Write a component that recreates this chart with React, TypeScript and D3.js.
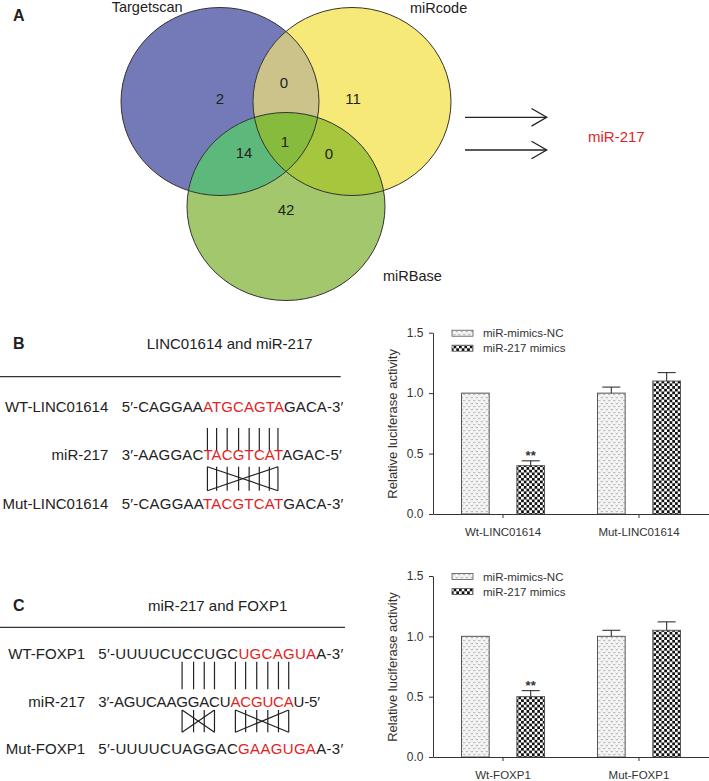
import React, { useEffect, useLayoutEffect, useRef, useState } from "react";
import * as d3 from "d3";

// ---- Venn (panel A) ----
const setNames = ["Targetscan", "miRcode", "miRBase"];
const regionKeys = ["T", "M", "B", "TM", "TB", "MB", "TMB"];
const regionCounts = [2, 11, 42, 0, 14, 0, 1];
const resultName = "miR-217";

// ---- luciferase bars (panels B, C) ----
const series = ["miR-mimics-NC", "miR-217 mimics"];
const yTicks = [0, 0.5, 1.0, 1.5];

const catsB = ["Wt-LINC01614", "Mut-LINC01614"];
const ncB = [1.0, 1.0];
const ncErrB = [0, 0.05];
const mimicsB = [0.4, 1.1];
const mimicsErrB = [0.04, 0.07];
const starsB = ["**", ""];

const catsC = ["Wt-FOXP1", "Mut-FOXP1"];
const ncC = [1.0, 1.0];
const ncErrC = [0, 0.05];
const mimicsC = [0.5, 1.05];
const mimicsErrC = [0.05, 0.07];
const starsC = ["**", ""];

// ---- sequences ----
const titleB = "LINC01614 and miR-217";
const rowLabelsB = ["WT-LINC01614", "miR-217", "Mut-LINC01614"];
const seqB = [
  ["5′-CAGGAA", "ATGCAGTA", "GACA-3′"],
  ["3′-AAGGAC", "TACGTCAT", "AGAC-5′"],
  ["5′-CAGGAA", "TACGTCAT", "GACA-3′"],
];
const pairsB = [[9, 16]];

const titleC = "miR-217 and FOXP1";
const rowLabelsC = ["WT-FOXP1", "miR-217", "Mut-FOXP1"];
const seqC = [
  ["5′-UUUUCUCCUGC", "UGCAGUA", "A-3′"],
  ["3′-AGUCAAGGACU", "ACGUCA", "U-5′"],
  ["5′-UUUUCUAGGAC", "GAAGUGA", "A-3′"],
];
const pairsC = [
  [9, 12],
  [14, 19],
];

const FONT = "'Liberation Sans', Arial, Helvetica, sans-serif";
const INK = "#222";
const RED = "#e31e24";

const RX = 99,
  RY = 94;
const ell = [
  { cx: 220, cy: 101.5, fill: "#7479b8" },
  { cx: 352, cy: 101.5, fill: "#f7e977" },
  { cx: 286, cy: 206.5, fill: "#a2c76c" },
];
const mixColors = { TM: "#ccc38a", TB: "#5db97b", MB: "#a6c63d", TMB: "#87bb3e" };

function Venn() {
  const count = (k: string) => regionCounts[regionKeys.indexOf(k)];
  const nums: [string, number, number][] = [
    ["T", 220, 99],
    ["M", 353, 99],
    ["B", 286, 210],
    ["TM", 284, 83],
    ["TB", 244, 153],
    ["MB", 329, 154],
    ["TMB", 285, 142],
  ];
  const arrowsY = [117.3, 150];
  return (
    <g>
      <defs>
        <clipPath id="clipT">
          <ellipse cx={ell[0].cx} cy={ell[0].cy} rx={RX} ry={RY} />
        </clipPath>
        <clipPath id="clipM">
          <ellipse cx={ell[1].cx} cy={ell[1].cy} rx={RX} ry={RY} />
        </clipPath>
      </defs>
      {ell.map((e, i) => (
        <ellipse key={i} cx={e.cx} cy={e.cy} rx={RX} ry={RY} fill={e.fill} />
      ))}
      <ellipse cx={ell[1].cx} cy={ell[1].cy} rx={RX} ry={RY} fill={mixColors.TM} clipPath="url(#clipT)" />
      <ellipse cx={ell[2].cx} cy={ell[2].cy} rx={RX} ry={RY} fill={mixColors.TB} clipPath="url(#clipT)" />
      <ellipse cx={ell[2].cx} cy={ell[2].cy} rx={RX} ry={RY} fill={mixColors.MB} clipPath="url(#clipM)" />
      <g clipPath="url(#clipT)">
        <ellipse cx={ell[2].cx} cy={ell[2].cy} rx={RX} ry={RY} fill={mixColors.TMB} clipPath="url(#clipM)" />
      </g>
      {ell.map((e, i) => (
        <ellipse key={"o" + i} cx={e.cx} cy={e.cy} rx={RX} ry={RY} fill="none" stroke="#333" strokeWidth={1} />
      ))}
      {nums.map(([k, x, y]) => (
        <text key={k} x={x} y={y + 5.4} textAnchor="middle" fontSize={15} fill={INK}>
          {count(k)}
        </text>
      ))}
      <text x={111.7} y={12} fontSize={14.5} fill={INK}>{setNames[0]}</text>
      <text x={410} y={12.5} fontSize={14.5} fill={INK}>{setNames[1]}</text>
      <text x={383} y={280.5} fontSize={14.5} fill={INK}>{setNames[2]}</text>
      {arrowsY.map((y) => (
        <g key={y} stroke={INK} strokeWidth={1.3} fill="none">
          <line x1={465} x2={546.5} y1={y} y2={y} />
          <polyline points={`531.5,${y - 8.8} 546.7,${y} 531.5,${y + 8.8}`} />
        </g>
      ))}
      <text x={588} y={142} fontSize={15} fill={RED}>{resultName}</text>
    </g>
  );
}

type BarProps = {
  cats: string[];
  nc: number[];
  ncErr: number[];
  mimics: number[];
  mimicsErr: number[];
  stars: string[];
  yZero: number;
  yTop: number;
  id: string;
};

function BarChart({ cats, nc, ncErr, mimics, mimicsErr, stars, yZero, yTop, id }: BarProps) {
  const yAxisRef = useRef<SVGGElement>(null);
  const xAxisRef = useRef<SVGGElement>(null);
  const x0 = d3.scaleBand<string>().domain(cats).range([433, 709]).paddingOuter(0.015);
  const x1 = d3.scaleBand<string>().domain(series).range([-41.5, 41.5]).paddingInner(0.5);
  const y = d3.scaleLinear().domain([0, 1.5]).range([yZero, yTop]);

  useEffect(() => {
    const ga = d3
      .select(yAxisRef.current)
      .call(
        d3
          .axisLeft(y)
          .tickValues(yTicks)
          .tickFormat(d3.format(".1f"))
          .tickSize(4)
          .tickSizeOuter(0)
          .tickPadding(5.5)
      )
      .attr("font-family", FONT)
      .attr("font-size", 12);
    ga.select(".domain").attr("stroke", "#333");
    ga.selectAll(".tick line").attr("stroke", "#333");
    ga.selectAll(".tick text").attr("fill", "#333");

    const gx = d3
      .select(xAxisRef.current)
      .call(d3.axisBottom(x0).tickSize(4).tickSizeOuter(0).tickPadding(10))
      .attr("font-family", FONT)
      .attr("font-size", 11.5);
    gx.select(".domain").attr("stroke", "#333");
    gx.selectAll(".tick line").attr("stroke", "#333");
    gx.selectAll(".tick text").attr("fill", "#333");
  }, []);

  const groups = [nc, mimics];
  const errs = [ncErr, mimicsErr];
  const fills = [`url(#nc-${id})`, `url(#ck-${id})`];
  const legendY = yTop + 0.5;

  return (
    <g>
      <defs>
        <pattern id={`nc-${id}`} width={5} height={6} patternUnits="userSpaceOnUse">
          <rect width={5} height={6} fill="#f6f6f6" />
          <path d="M0.6,0.8 L1.8,2.2 L3,0.8 M3.1,3.8 L4.3,5.2 L5.5,3.8 M-1.9,3.8 L-0.7,5.2 L0.5,3.8" stroke="#9a9a9a" strokeWidth={0.8} fill="none" />
        </pattern>
        <pattern id={`ck-${id}`} width={5.4} height={5.4} patternUnits="userSpaceOnUse">
          <rect width={5.4} height={5.4} fill="#fff" />
          <rect width={2.7} height={2.7} fill="#111" />
          <rect x={2.7} y={2.7} width={2.7} height={2.7} fill="#111" />
        </pattern>
      </defs>
      {cats.map((c, ci) =>
        series.map((s, si) => {
          const cx = (x0(c) as number) + x0.bandwidth() / 2 + (x1(s) as number);
          const v = groups[si][ci];
          const e = errs[si][ci];
          const mid = cx + x1.bandwidth() / 2;
          return (
            <g key={c + s}>
              <rect
                x={cx}
                y={y(v)}
                width={x1.bandwidth()}
                height={yZero - y(v)}
                fill={fills[si]}
                stroke="#555"
                strokeWidth={1}
              />
              {e > 0 && (
                <g stroke="#333" strokeWidth={1.1}>
                  <line x1={mid} x2={mid} y1={y(v)} y2={y(v + e)} />
                  <line x1={mid - 9} x2={mid + 9} y1={y(v + e)} y2={y(v + e)} />
                </g>
              )}
              {si === 1 && stars[ci] && (
                <text x={mid} y={y(v + e) - 0.5} textAnchor="middle" fontSize={13} fontWeight="bold" fill="#333">
                  {stars[ci]}
                </text>
              )}
            </g>
          );
        })
      )}
      <g ref={yAxisRef} transform="translate(433,0)" />
      <g ref={xAxisRef} transform={`translate(0,${yZero})`} />
      <text
        transform={`translate(392,${(yZero + yTop) / 2 + 0.5}) rotate(-90)`}
        textAnchor="middle"
        dominantBaseline="central"
        fontSize={13}
        fill="#333"
      >
        Relative luciferase activity
      </text>
      {series.map((s, i) => (
        <g key={s}>
          <rect x={452} y={legendY + i * 15 - 3} width={21} height={6} fill={fills[i]} stroke="#555" strokeWidth={0.8} />
          <text x={483} y={legendY + i * 15 + 4.2} fontSize={11.5} fill="#333">
            {s}
          </text>
        </g>
      ))}
    </g>
  );
}

type SeqProps = {
  letter: string;
  title: string;
  titleX: number;
  titleY: number;
  ruleY: number;
  ruleEnd: number;
  labels: string[];
  seqs: string[][];
  labelRight: number;
  seqX: number;
  seqEnds: number[];
  rowY: number[];
  pairs: number[][];
  pairY: [number, number];
  crossY: [number, number];
};

function SeqPanel(p: SeqProps) {
  const midRef = useRef<SVGTextElement>(null);
  const [pos, setPos] = useState<number[]>([]);
  useLayoutEffect(() => {
    const el = midRef.current;
    if (!el) return;
    const n = el.getNumberOfChars();
    const out: number[] = [];
    for (let i = 0; i < n; i++) {
      out.push((el.getStartPositionOfChar(i).x + el.getEndPositionOfChar(i).x) / 2);
    }
    setPos(out);
  }, []);

  return (
    <g>
      <text x={13} y={p.titleY} fontSize={16} fontWeight="bold" fill={INK}>
        {p.letter}
      </text>
      <text x={p.titleX} y={p.titleY} fontSize={15} fill={INK}>
        {p.title}
      </text>
      <line x1={0} x2={p.ruleEnd} y1={p.ruleY} y2={p.ruleY} stroke="#333" strokeWidth={1.3} />
      {p.labels.map((l, i) => (
        <text key={l + i} x={p.labelRight} y={p.rowY[i]} textAnchor="end" fontSize={15} fill={INK}>
          {l}
        </text>
      ))}
      {p.seqs.map((parts, i) => (
        <text
          key={i}
          ref={i === 1 ? midRef : undefined}
          x={p.seqX}
          y={p.rowY[i]}
          fontSize={15}
          fill={INK}
          textLength={p.seqEnds[i] - p.seqX}
          lengthAdjust="spacing"
        >
          <tspan>{parts[0]}</tspan>
          <tspan fill={RED}>{parts[1]}</tspan>
          <tspan>{parts[2]}</tspan>
        </text>
      ))}
      {pos.length > 0 && (
        <g stroke={INK} strokeWidth={1.2} fill="none">
          {p.pairs.map(([a, b]) =>
            d3.range(a, b + 1).map((i) => (
              <line key={"p" + i} x1={pos[i]} x2={pos[i]} y1={p.pairY[0]} y2={p.pairY[1]} />
            ))
          )}
          {p.pairs.map(([a, b]) => (
            <g key={"c" + a}>
              {d3.range(a, b + 1).map((i) => (
                <line key={i} x1={pos[i]} x2={pos[i]} y1={p.crossY[0]} y2={p.crossY[1]} />
              ))}
              <line x1={pos[a]} y1={p.crossY[0]} x2={pos[b]} y2={p.crossY[1]} />
              <line x1={pos[a]} y1={p.crossY[1]} x2={pos[b]} y2={p.crossY[0]} />
            </g>
          ))}
        </g>
      )}
    </g>
  );
}

export default function App() {
  return (
    <div style={{ position: "absolute", left: 0, top: 0 }}>
      <svg width={709} height={781} style={{ display: "block", background: "#fff" }} fontFamily={FONT}>
        <text x={13} y={20.5} fontSize={16} fontWeight="bold" fill={INK}>
          A
        </text>
        <Venn />
        <SeqPanel
          letter="B"
          title={titleB}
          titleX={146.7}
          titleY={348.7}
          ruleY={376.7}
          ruleEnd={340.7}
          labels={rowLabelsB}
          seqs={seqB}
          labelRight={108.3}
          seqX={121.7}
          seqEnds={[343.3, 341.7, 343.3]}
          rowY={[412, 460.3, 508.6]}
          pairs={pairsB}
          pairY={[428, 450]}
          crossY={[466.7, 490.7]}
        />
        <SeqPanel
          letter="C"
          title={titleC}
          titleX={148}
          titleY={611.4}
          ruleY={627.3}
          ruleEnd={345}
          labels={rowLabelsC}
          seqs={seqC}
          labelRight={85}
          seqX={98.3}
          seqEnds={[343.3, 320, 343.3]}
          rowY={[659.4, 707, 753.6]}
          pairs={pairsC}
          pairY={[661.7, 689.3]}
          crossY={[710, 732.3]}
        />
        <BarChart
          id="b"
          cats={catsB}
          nc={ncB}
          ncErr={ncErrB}
          mimics={mimicsB}
          mimicsErr={mimicsErrB}
          stars={starsB}
          yZero={514}
          yTop={332.7}
        />
        <BarChart
          id="c"
          cats={catsC}
          nc={ncC}
          ncErr={ncErrC}
          mimics={mimicsC}
          mimicsErr={mimicsErrC}
          stars={starsC}
          yZero={757}
          yTop={576}
        />
      </svg>
    </div>
  );
}
